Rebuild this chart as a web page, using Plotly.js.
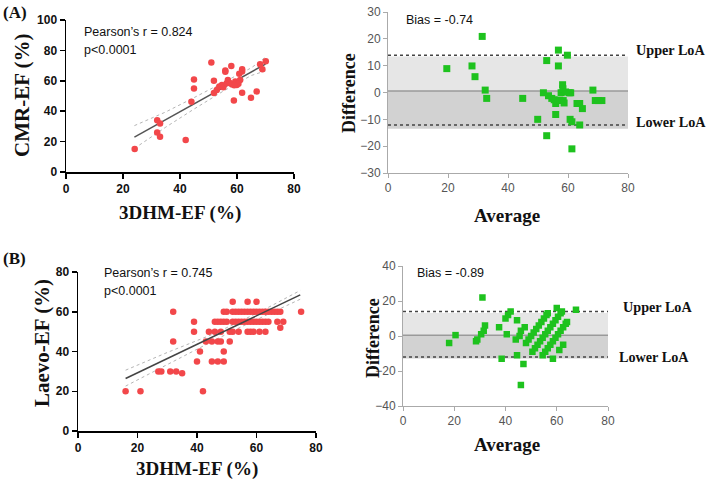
<!DOCTYPE html>
<html>
<head>
<meta charset="utf-8">
<script src="https://cdn.plot.ly/plotly-3.0.1.min.js"></script>
<style>html,body{margin:0;padding:0;background:#fff;}#chart{width:709px;height:482px;}</style>
</head>
<body>
<div id="chart"></div>
<script>
// ---------- Panel A (CMR vs 3DHM) ----------
const aX = [24.1, 32, 33, 32, 33, 42, 44, 44.9, 44.9, 51, 51.9, 51.9, 52.9, 53.8, 54.7, 55.2, 55.9, 55.9, 56.4, 56.8, 58, 58.2, 58.9, 59.4, 59.9, 60.8, 61.1, 61.8, 61.8, 61.8, 64.9, 66.9, 68.1, 68.9, 70.1, 57.5, 60.5, 59];
const aY = [15.1, 34.1, 31.9, 26, 23.2, 21, 46.2, 60.8, 54.9, 72, 60, 51.9, 54, 56.2, 57.3, 55.8, 66.7, 65.9, 58.4, 60.6, 69.8, 57.8, 47, 59.5, 57.3, 64.6, 60.6, 67.6, 66.1, 52.1, 48.8, 53, 70.9, 67.6, 72.9, 58.5, 58, 57];
const aFitX = [24, 70];
const aFitY = [23, 71];
const aBandX = [24, 35, 45, 55, 65, 70];
const aBandUp = [30.5, 39.5, 49, 58.5, 68.5, 75.5];
const aBandLo = [15.5, 29.5, 41.5, 53, 63.5, 66.5];

const baAx = [19.6, 28, 29, 31.4, 32.4, 32.9, 44.9, 49.9, 51.8, 52.9, 52.9, 53.5, 54.6, 55.4, 55.9, 55.9, 56.3, 56.8, 56.8, 57.2, 57.7, 58.2, 58.3, 58.4, 58.7, 59.2, 59.8, 60.4, 60.9, 60.7, 61.3, 61.3, 63, 63.9, 63.9, 64.8, 68.3, 69.1, 70.1, 71.3];
const baAy = [8.9, 9.9, 5.9, 20.9, 0.9, -2.2, -2.2, -10, -0.1, 11.9, -16.1, -1.2, -2.2, -2.7, -4.1, -8.2, -3, 9.9, 15.8, -2.9, -0.1, 2.9, 1.4, -3, -3.9, 0.2, 13.9, -0.1, -0.1, -10, -10.9, -21, -4.1, -4.1, -12.1, -6, 0.9, -3, -3, -3];
// [upper LoA, bias line, lower LoA]
const loaA = [13.9, 0.6, -12.1];
// shaded band edges [top, middle, bottom]
const shadeA = [13.4, 0.6, -13.5];

// ---------- Panel B (Laevo vs 3DHM) ----------
const bX = [16, 21, 42,
  27, 28, 31, 33, 35,
  40, 45, 47, 49,
  41, 49,
  32, 43, 45, 47, 48, 51,
  39, 44, 46, 48, 51, 52, 54, 57, 58, 59, 61, 63,
  68,
  39, 46, 47, 48, 49, 50, 52, 53, 54, 55, 56, 57, 58, 59, 60, 61, 62, 63, 64, 67, 69,
  32, 49, 50, 52, 53, 54, 55, 56, 57, 58, 59, 60, 61, 62, 63, 64, 65, 66, 67, 68, 75,
  52, 57, 60];
const bY = [20, 20, 20,
  30, 30, 30, 30, 29,
  35, 35, 35, 35,
  40, 40,
  45, 45, 45, 45, 45, 45,
  50, 50, 50, 50, 50, 50, 50, 50, 50, 50, 50, 50,
  52,
  55, 55, 55, 55, 55, 55, 55, 55, 55, 55, 55, 55, 55, 55, 55, 55, 55, 55, 55, 55, 55,
  60, 60, 60, 60, 60, 60, 60, 60, 60, 60, 60, 60, 60, 60, 60, 60, 60, 60, 60, 60, 60,
  65, 65, 65];
const bFitX = [16, 74.7];
const bFitY = [26.4, 68.5];
const bBandX = [16, 30, 45, 55, 65, 74.7];
const bBandUp = [30.6, 39.5, 48.5, 55.5, 63, 70.7];
const bBandLo = [22.6, 33.5, 45, 52.5, 59.5, 66.3];

const baBx = [18, 20.5, 28.5, 29, 30.5, 31, 31.5, 32, 37.5, 38.5, 40, 40.5, 41, 42, 44.5, 44, 44.5, 45.5, 46, 46, 47, 47.5, 58.5, 61, 62.5, 67.5, 60,
  48, 49, 50, 51, 52, 53, 54, 55, 56, 56.5,
  50.5, 51.5, 52.5, 53.5, 54.5, 55.5, 56.5, 57.5, 58.5, 59.5, 60.5, 61.5, 62,
  54.5, 55.5, 56.5, 57.5, 58.5, 59.5, 60.5, 61.5, 62.5, 63.5, 64];
const baBy = [-4, 0.5, -3, -2, 1, 22, 3, 6, 5, -13, 10, 1, 12, 14, 9, -2, -11, 0, 3, -28, -16, 5, -13, -8, -5, 15, 16,
  -4, -2, 0, 2, 4, 6, 8, 10, 12, 13,
  -9, -7, -5, -3, -1, 1, 3, 5, 7, 9, 11, 13, 14,
  -11, -9, -7, -5, -3, -1, 1, 3, 5, 7, 8];
const loaB = [14, 0.4, -12];
const shadeB = [13.1, 0.4, -12.9];

const ticksA_y = [0, 20, 40, 60, 80, 100];
const ticksX = [0, 20, 40, 60, 80];
const ticksBA_A = [-30, -20, -10, 0, 10, 20, 30];
const ticksB_y = [0, 20, 40, 60, 80];
const ticksBA_B = [-40, -20, 0, 20, 40];

// ---------- styling ----------
const RED = '#f2474a';
const GREEN = '#1ec21e';
const W = 709, H = 482;
const px = v => v / W;
const py = v => 1 - v / H;

const leftAxis = {
  showline: true, linecolor: '#000', linewidth: 1.5, ticks: 'outside', ticklen: 5, tickwidth: 1.5, tickcolor: '#000',
  showgrid: false, zeroline: false, tickfont: {family: 'Liberation Sans, Arial, sans-serif', size: 12, color: '#111', weight: 'bold'}
};
const rightAxis = {
  showline: true, linecolor: '#aaa', linewidth: 1, ticks: 'outside', ticklen: 4, tickwidth: 1, tickcolor: '#aaa',
  showgrid: false, zeroline: false, tickfont: {family: 'Liberation Sans, Arial, sans-serif', size: 12, color: '#555'}
};

const traces = [
  {x: aBandX, y: aBandUp, xaxis: 'x', yaxis: 'y', mode: 'lines', line: {color: '#b5b5b5', width: 1, dash: 'dot'}},
  {x: aBandX, y: aBandLo, xaxis: 'x', yaxis: 'y', mode: 'lines', line: {color: '#b5b5b5', width: 1, dash: 'dot'}},
  {x: aFitX, y: aFitY, xaxis: 'x', yaxis: 'y', mode: 'lines', line: {color: '#555', width: 1.5}},
  {x: aX, y: aY, xaxis: 'x', yaxis: 'y', mode: 'markers', marker: {color: RED, size: 6.5, symbol: 'circle'}},

  {x: baAx, y: baAy, xaxis: 'x2', yaxis: 'y2', mode: 'markers', marker: {color: GREEN, size: 7, symbol: 'square'}},

  {x: bBandX, y: bBandUp, xaxis: 'x3', yaxis: 'y3', mode: 'lines', line: {color: '#b5b5b5', width: 1, dash: 'dot'}},
  {x: bBandX, y: bBandLo, xaxis: 'x3', yaxis: 'y3', mode: 'lines', line: {color: '#b5b5b5', width: 1, dash: 'dot'}},
  {x: bX, y: bY, xaxis: 'x3', yaxis: 'y3', mode: 'markers', marker: {color: RED, size: 6.5, symbol: 'circle'}},
  {x: bFitX, y: bFitY, xaxis: 'x3', yaxis: 'y3', mode: 'lines', line: {color: '#444', width: 1.5}},

  {x: baBx, y: baBy, xaxis: 'x4', yaxis: 'y4', mode: 'markers', marker: {color: GREEN, size: 6.5, symbol: 'square'}}
];

function baShapes(xr, yr, loa, shade) {
  return [
    {type: 'rect', xref: xr, yref: yr, x0: 0, x1: 80, y0: shade[1], y1: shade[0], fillcolor: '#e6e6e6', line: {width: 0}, layer: 'below'},
    {type: 'rect', xref: xr, yref: yr, x0: 0, x1: 80, y0: shade[2], y1: shade[1], fillcolor: '#d2d2d2', line: {width: 0}, layer: 'below'},
    {type: 'line', xref: xr, yref: yr, x0: 0, x1: 80, y0: loa[1], y1: loa[1], line: {color: '#9a9a9a', width: 1.5}, layer: 'below'},
    {type: 'line', xref: xr, yref: yr, x0: 0, x1: 80, y0: loa[0], y1: loa[0], line: {color: '#444', width: 1.5, dash: 'dot'}, layer: 'below'},
    {type: 'line', xref: xr, yref: yr, x0: 0, x1: 80, y0: loa[2], y1: loa[2], line: {color: '#444', width: 1.5, dash: 'dot'}, layer: 'below'}
  ];
}

const serifB = (s) => ({family: 'Liberation Serif, Times New Roman, serif', size: s, color: '#111', weight: 'bold'});
const sans = {family: 'Liberation Sans, Arial, sans-serif', size: 12.5, color: '#111'};

function ann(text, x, y, font, opts) {
  return Object.assign({text: text, x: px(x), y: py(y), xref: 'paper', yref: 'paper', showarrow: false, font: font, xanchor: 'left', yanchor: 'middle'}, opts || {});
}

const annotations = [
  ann('(A)', 1, 12, serifB(17)),
  ann('(B)', 1, 258, serifB(17)),
  ann('Pearson’s r = 0.824', 82, 32, sans),
  ann('p<0.0001', 82, 50, sans),
  ann('Bias = -0.74', 404, 20, sans),
  ann('Upper LoA', 634, 50, serifB(14.2)),
  ann('Lower LoA', 634, 122, serifB(14.2)),
  ann('Pearson’s r = 0.745', 102, 273, sans),
  ann('p<0.0001', 102, 291, sans),
  ann('Bias = -0.89', 415, 273, sans),
  ann('Upper LoA', 621, 307, serifB(14.2)),
  ann('Lower LoA', 617, 357, serifB(14.2)),
  ann('CMR-EF (%)', 22, 96, serifB(21), {textangle: -90, xanchor: 'center'}),
  ann('3DHM-EF (%)', 180, 213, serifB(19), {xanchor: 'center'}),
  ann('Difference', 349, 93, serifB(18), {textangle: -90, xanchor: 'center'}),
  ann('Average', 507, 216, serifB(19), {xanchor: 'center'}),
  ann('Laevo-EF (%)', 42, 343, serifB(21), {textangle: -90, xanchor: 'center'}),
  ann('3DHM-EF (%)', 197, 469, serifB(19), {xanchor: 'center'}),
  ann('Difference', 373, 338, serifB(18), {textangle: -90, xanchor: 'center'}),
  ann('Average', 507, 444, serifB(19), {xanchor: 'center'})
];

const layout = {
  width: W, height: H,
  margin: {l: 0, r: 0, t: 0, b: 0},
  paper_bgcolor: '#fff', plot_bgcolor: 'rgba(0,0,0,0)',
  showlegend: false,
  xaxis: Object.assign({}, leftAxis, {domain: [px(66), px(294)], range: [0, 80], tickvals: ticksX, anchor: 'y'}),
  yaxis: Object.assign({}, leftAxis, {domain: [py(172), py(20)], range: [0, 100], tickvals: ticksA_y, anchor: 'x'}),
  xaxis2: Object.assign({}, rightAxis, {domain: [px(388), px(628)], range: [0, 80], tickvals: ticksX, anchor: 'y2'}),
  yaxis2: Object.assign({}, rightAxis, {domain: [py(173), py(12)], range: [-30, 30], tickvals: ticksBA_A, anchor: 'x2'}),
  xaxis3: Object.assign({}, leftAxis, {domain: [px(78), px(316)], range: [0, 80], tickvals: ticksX, anchor: 'y3'}),
  yaxis3: Object.assign({}, leftAxis, {domain: [py(431), py(272)], range: [0, 80], tickvals: ticksB_y, anchor: 'x3'}),
  xaxis4: Object.assign({}, rightAxis, {domain: [px(403), px(608)], range: [0, 80], tickvals: ticksX, anchor: 'y4'}),
  yaxis4: Object.assign({}, rightAxis, {domain: [py(406), py(266)], range: [-40, 40], tickvals: ticksBA_B, anchor: 'x4'}),
  shapes: baShapes('x2', 'y2', loaA, shadeA).concat(baShapes('x4', 'y4', loaB, shadeB)),
  annotations: annotations
};

Plotly.newPlot('chart', traces, layout, {displayModeBar: false, staticPlot: true});
</script>
</body>
</html>
